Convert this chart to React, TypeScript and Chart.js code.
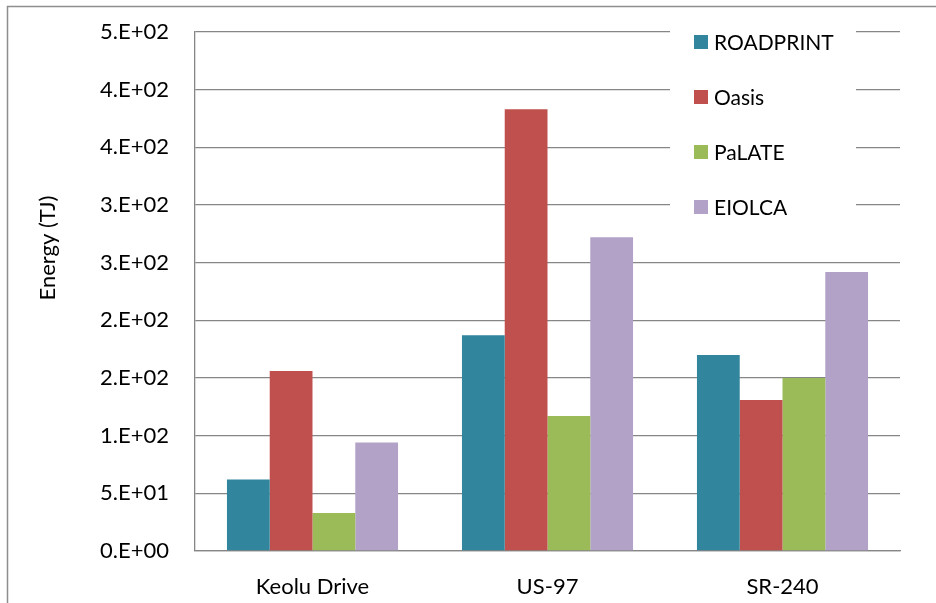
import React, { useEffect, useRef } from "react";
import { Chart, registerables } from "chart.js";

Chart.register(...registerables);

const categories = ["Keolu Drive", "US-97", "SR-240"];
const seriesNames = ["ROADPRINT", "Oasis", "PaLATE", "EIOLCA"];
const roadprint = [62, 187, 170];
const oasis = [156, 383, 131];
const palate = [33, 117, 150];
const eiolca = [94, 272, 242];
const seriesColors = ["#31859C", "#C0504D", "#9BBB59", "#B3A2C7"];
const yTickLabels = [
  "0.E+00",
  "5.E+01",
  "1.E+02",
  "2.E+02",
  "2.E+02",
  "3.E+02",
  "3.E+02",
  "4.E+02",
  "4.E+02",
  "5.E+02",
];
const yTitle = "Energy (TJ)";

const FONT = "Lato, 'Open Sans', sans-serif";
const FONT_SIZE = 22;
const LEGEND_FONT_SIZE = 21;
const GRID = "#868686";

const decorPlugin = {
  id: "decor",
  afterDraw(chart: any) {
    const ctx = chart.ctx;
    ctx.save();
    // outer frame (only top & left visible)
    ctx.strokeStyle = "#8e8e8e";
    ctx.lineWidth = 1.5;
    ctx.strokeRect(7.5, 6.5, 2000, 2000);

    // y axis title
    ctx.save();
    ctx.translate(48, 248);
    ctx.rotate(-Math.PI / 2);
    ctx.fillStyle = "#000";
    ctx.font = `${FONT_SIZE}px ${FONT}`;
    ctx.textAlign = "center";
    ctx.textBaseline = "middle";
    ctx.fillText(yTitle, 0, 0);
    ctx.restore();

    // legend box
    ctx.fillStyle = "#fff";
    ctx.fillRect(670, 16, 186, 216);
    ctx.font = `${LEGEND_FONT_SIZE}px ${FONT}`;
    ctx.textAlign = "left";
    ctx.textBaseline = "middle";
    chart.data.datasets.forEach((ds: any, i: number) => {
      const cy = 42 + 55 * i;
      ctx.fillStyle = ds.backgroundColor;
      ctx.fillRect(694, cy - 7, 14, 14);
      ctx.fillStyle = "#000";
      ctx.fillText(ds.label, 714, cy + 1);
    });
    ctx.restore();
  },
};

export default function App() {
  const ref = useRef<HTMLCanvasElement | null>(null);
  useEffect(() => {
    if (!ref.current) return;
    const series = [roadprint, oasis, palate, eiolca];
    const chart = new Chart(ref.current, {
      type: "bar",
      data: {
        labels: categories,
        datasets: series.map((d, i) => ({
          label: seriesNames[i],
          data: d,
          backgroundColor: seriesColors[i],
          borderWidth: 0,
          categoryPercentage: 0.728,
          barPercentage: 1,
        })),
      },
      options: {
        responsive: false,
        animation: false,
        devicePixelRatio: 1,
        layout: { padding: { left: 0, top: 32, right: 36, bottom: 0 } },
        plugins: {
          legend: { display: false },
          tooltip: { enabled: false },
        },
        scales: {
          x: {
            grid: { display: false, drawTicks: false },
            border: { display: true, color: GRID, width: 1.3 },
            ticks: {
              color: "#000",
              font: { family: FONT, size: FONT_SIZE },
              padding: 23,
              maxRotation: 0,
            },
            afterFit(scale: any) {
              scale.height = 52;
              scale.paddingLeft = 0;
              scale.paddingRight = 0;
            },
          },
          y: {
            min: 0,
            max: 450,
            grid: { color: GRID, lineWidth: 1.3, drawTicks: false },
            border: { display: true, color: GRID, width: 1.3 },
            ticks: {
              stepSize: 50,
              color: "#000",
              font: { family: FONT, size: FONT_SIZE },
              padding: 26,
              callback: (_v: any, idx: number) => yTickLabels[idx],
            },
            afterFit(scale: any) {
              scale.width = 195;
              scale.paddingTop = 0;
              scale.paddingBottom = 0;
            },
          },
        },
      },
      plugins: [decorPlugin],
    });
    return () => chart.destroy();
  }, []);
  return (
    <div style={{ position: "fixed", left: 0, top: 0, width: 936, height: 603, background: "#fff" }}>
      <canvas ref={ref} width={936} height={603} />
    </div>
  );
}
